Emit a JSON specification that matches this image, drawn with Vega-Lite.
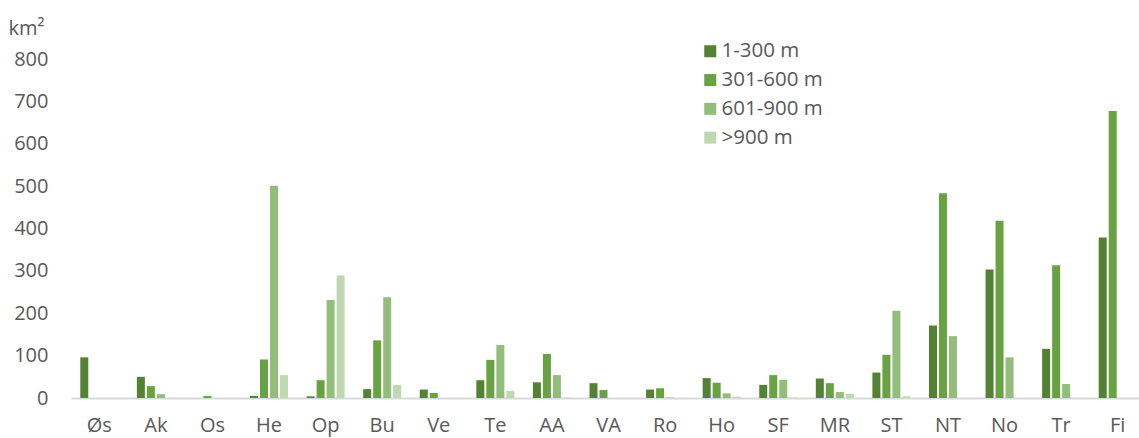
{
  "$schema": "https://vega.github.io/schema/vega-lite/v6.json",
  "autosize": {"type": "none"},
  "padding": {"left": 71, "top": 59, "right": 0, "bottom": 40},
  "width": 1068,
  "height": 339,
  "background": "white",
  "config": {"view": {"stroke": null}, "font": "Open Sans"},
  "datasets": {
    "raw": [
      {"region": "Øs", "a": 96, "b": 0, "c": 0, "d": 0},
      {"region": "Ak", "a": 50, "b": 28, "c": 9, "d": 0},
      {"region": "Os", "a": 0, "b": 5, "c": 0, "d": 0},
      {"region": "He", "a": 5, "b": 91, "c": 501, "d": 54},
      {"region": "Op", "a": 4, "b": 42, "c": 231, "d": 289},
      {"region": "Bu", "a": 21, "b": 136, "c": 238, "d": 31},
      {"region": "Ve", "a": 20, "b": 12, "c": 0, "d": 0},
      {"region": "Te", "a": 42, "b": 90, "c": 125, "d": 17},
      {"region": "AA", "a": 37, "b": 104, "c": 54, "d": 1},
      {"region": "VA", "a": 35, "b": 19, "c": 0, "d": 0},
      {"region": "Ro", "a": 20, "b": 23, "c": 1, "d": 0},
      {"region": "Ho", "a": 47, "b": 36, "c": 11, "d": 3},
      {"region": "SF", "a": 31, "b": 54, "c": 43, "d": 1},
      {"region": "MR", "a": 46, "b": 35, "c": 14, "d": 10},
      {"region": "ST", "a": 60, "b": 102, "c": 206, "d": 4},
      {"region": "NT", "a": 171, "b": 483, "c": 146, "d": 0},
      {"region": "No", "a": 303, "b": 418, "c": 96, "d": 0},
      {"region": "Tr", "a": 116, "b": 313, "c": 33, "d": 0},
      {"region": "Fi", "a": 379, "b": 677, "c": 0, "d": 0}
    ]
  },
  "data": {"name": "raw"},
  "transform": [
    {"fold": ["a", "b", "c", "d"], "as": ["key", "value"]},
    {"lookup": "key", "from": {"data": {"values": [
      {"key": "a", "band": "1-300 m"},
      {"key": "b", "band": "301-600 m"},
      {"key": "c", "band": "601-900 m"},
      {"key": "d", "band": ">900 m"}
    ]}, "key": "key", "fields": ["band"]}}
  ],
  "mark": {"type": "bar"},
  "encoding": {
    "x": {
      "field": "region", "type": "nominal",
      "sort": ["Øs","Ak","Os","He","Op","Bu","Ve","Te","AA","VA","Ro","Ho","SF","MR","ST","NT","No","Tr","Fi"],
      "scale": {"range": [0, 1075], "paddingInner": 0.293, "paddingOuter": 0.1465},
      "axis": {
        "title": null, "labelAngle": 0, "ticks": false,
        "domainColor": "#d9d9d9", "domainWidth": 2,
        "labelFontSize": 20, "labelColor": "#595959", "labelPadding": 17,
        "labelFont": "Open Sans"
      }
    },
    "xOffset": {
      "field": "band", "type": "nominal",
      "sort": ["1-300 m", "301-600 m", "601-900 m", ">900 m"],
      "scale": {"paddingInner": 0.2, "paddingOuter": 0.1}
    },
    "y": {
      "field": "value", "type": "quantitative",
      "scale": {"domain": [0, 800], "nice": false},
      "axis": {
        "values": [0,100,200,300,400,500,600,700,800],
        "grid": false, "domain": false, "ticks": false,
        "labelFontSize": 20, "labelColor": "#595959", "labelPadding": 23,
        "labelFont": "Open Sans",
        "title": "km²", "titleAngle": 0, "titleAlign": "left", "titleBaseline": "middle",
        "titleX": -63, "titleY": -31, "titleFontSize": 20, "titleFontWeight": "normal",
        "titleColor": "#595959", "titleFont": "Open Sans"
      }
    },
    "color": {
      "field": "band", "type": "nominal",
      "sort": ["1-300 m", "301-600 m", "601-900 m", ">900 m"],
      "scale": {
        "domain": ["1-300 m", "301-600 m", "601-900 m", ">900 m"],
        "range": ["#548235", "#69a242", "#93bd7b", "#bfd8b1"]
      },
      "legend": {
        "title": null, "orient": "none", "legendX": 629, "legendY": -18, "padding": 0,
        "symbolType": "square", "symbolSize": 144, "symbolStrokeWidth": 0,
        "labelFontSize": 20.5, "labelColor": "#595959", "labelFont": "Open Sans",
        "labelOffset": 1, "rowPadding": 7.8
      }
    }
  }
}
